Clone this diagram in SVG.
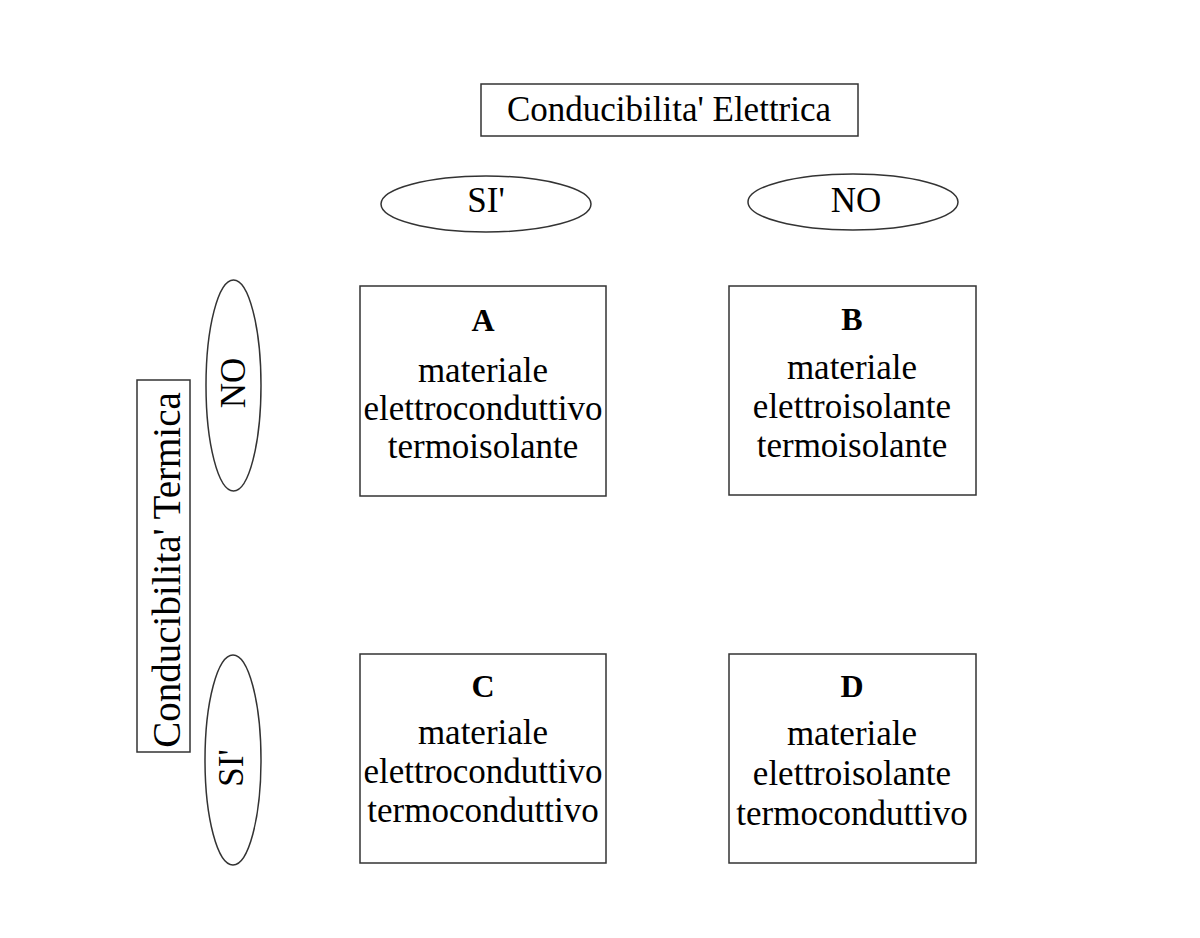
<svg xmlns="http://www.w3.org/2000/svg" width="1200" height="938" viewBox="0 0 1200 938">
<style>
.shape{fill:#fff;stroke:#333;stroke-width:1.5}
.t{font-family:"Liberation Serif","Times New Roman",serif;font-size:35px;fill:#000;text-anchor:middle}
.b{font-weight:bold;font-size:32px}
.v{font-size:39px}
</style>
<rect width="1200" height="938" fill="#fff"/>
<g id="connectors"></g>
<g id="title-elettrica">
<rect class="shape" x="481" y="84" width="377" height="52"/>
<text class="t" x="669" y="121">Conducibilita' Elettrica</text>
</g>
<g id="col-si">
<ellipse class="shape" cx="486" cy="204" rx="105" ry="28"/>
<text class="t" x="486" y="212">SI'</text>
</g>
<g id="col-no">
<ellipse class="shape" cx="853" cy="202" rx="105" ry="28"/>
<text class="t" x="856" y="212">NO</text>
</g>
<g id="title-termica">
<rect class="shape" x="137" y="380" width="53" height="372"/>
<text class="t v" transform="translate(180,570) rotate(-90)">Conducibilita' Termica</text>
</g>
<g id="row-no">
<ellipse class="shape" cx="233.5" cy="385.5" rx="27.5" ry="105.5"/>
<text class="t" transform="translate(245,383) rotate(-90)">NO</text>
</g>
<g id="row-si">
<ellipse class="shape" cx="233" cy="760" rx="28" ry="105"/>
<text class="t" transform="translate(243,768) rotate(-90)">SI'</text>
</g>
<g id="box-a">
<rect class="shape" x="360" y="286" width="246" height="210"/>
<text class="t b" x="483" y="331">A</text>
<text class="t" x="483" y="382">materiale</text>
<text class="t" x="483" y="420">elettroconduttivo</text>
<text class="t" x="483" y="458">termoisolante</text>
</g>
<g id="box-b">
<rect class="shape" x="729" y="286" width="247" height="209"/>
<text class="t b" x="852" y="330">B</text>
<text class="t" x="852" y="379">materiale</text>
<text class="t" x="852" y="418">elettroisolante</text>
<text class="t" x="852" y="457">termoisolante</text>
</g>
<g id="box-c">
<rect class="shape" x="360" y="654" width="246" height="209"/>
<text class="t b" x="483" y="697">C</text>
<text class="t" x="483" y="744">materiale</text>
<text class="t" x="483" y="783">elettroconduttivo</text>
<text class="t" x="483" y="822">termoconduttivo</text>
</g>
<g id="box-d">
<rect class="shape" x="729" y="654" width="247" height="209"/>
<text class="t b" x="852" y="697">D</text>
<text class="t" x="852" y="745">materiale</text>
<text class="t" x="852" y="785">elettroisolante</text>
<text class="t" x="852" y="825">termoconduttivo</text>
</g>
</svg>
